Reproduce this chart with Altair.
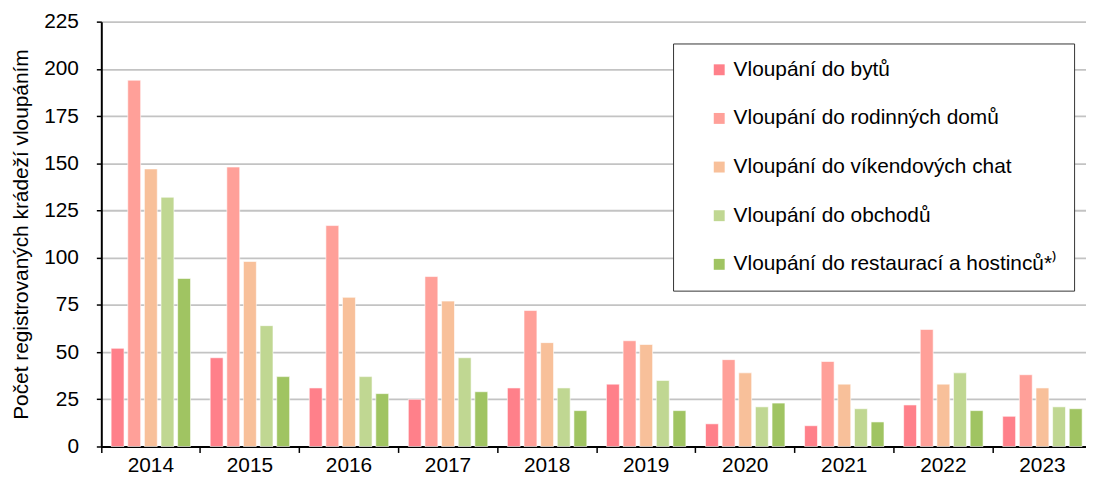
import altair as alt
import pandas as pd

years = ["2014", "2015", "2016", "2017", "2018", "2019", "2020", "2021", "2022", "2023"]
series = [
    "Vloupání do bytů",
    "Vloupání do rodinných domů",
    "Vloupání do víkendových chat",
    "Vloupání do obchodů",
    "Vloupání do restaurací a hostinců*⁾",
]
byty = [52, 47, 31, 25, 31, 33, 12, 11, 22, 16]
domy = [194, 148, 117, 90, 72, 56, 46, 45, 62, 38]
chaty = [147, 98, 79, 77, 55, 54, 39, 33, 33, 31]
obchody = [132, 64, 37, 47, 31, 35, 21, 20, 39, 21]
restaurace = [89, 37, 28, 29, 19, 19, 23, 13, 19, 20]
colors = ["#FF808A", "#FFA099", "#F8C09A", "#C0D792", "#A0C462"]
y_ticks = list(range(0, 226, 25))

rows = []
for s, vals in zip(series, [byty, domy, chaty, obchody, restaurace]):
    for y, v in zip(years, vals):
        rows.append({"rok": y, "typ": s, "pocet": v})
df = pd.DataFrame(rows)

FONT = "Liberation Sans"

chart = alt.Chart(df).mark_bar(stroke="white", strokeWidth=0.6).encode(
    x=alt.X("rok:N", sort=years, title=None,
            scale=alt.Scale(paddingInner=0, paddingOuter=0),
            axis=alt.Axis(labelAngle=0, labelFontSize=21, labelFont=FONT, labelColor="black",
                          tickSize=6, tickColor="black", tickWidth=1.5, bandPosition=0,
                          labelPadding=2, domainColor="black", domainWidth=2, grid=False)),
    xOffset=alt.XOffset("typ:N", sort=series,
                        scale=alt.Scale(paddingInner=0.224, paddingOuter=0.59)),
    y=alt.Y("pocet:Q", title="Počet registrovaných krádeží vloupáním",
            scale=alt.Scale(domain=[0, 225], nice=False),
            axis=alt.Axis(values=y_ticks, labelFontSize=21, labelFont=FONT, labelColor="black",
                          tickSize=5, tickColor="black", tickWidth=1.5, labelPadding=18,
                          domainColor="black", domainWidth=2,
                          gridColor="#c3c3c3", gridWidth=1.8,
                          titleFont=FONT, titleFontSize=21, titleFontWeight="normal",
                          titleColor="black", titlePadding=12)),
    color=alt.Color("typ:N", sort=series,
                    scale=alt.Scale(domain=series, range=colors),
                    legend=alt.Legend(title=None, orient="none", legendX=576, legendY=22,
                                      labelFont=FONT, labelFontSize=21, labelColor="black",
                                      labelLimit=500, symbolType="square", symbolSize=121,
                                      symbolStrokeWidth=0, symbolOffset=20, labelOffset=4,
                                      rowPadding=27, padding=16,
                                      strokeColor="#333333", fillColor="white")),
).properties(
    width=998,
    height=428,
    autosize=alt.AutoSizeParams(type="none"),
    padding={"left": 94, "top": 12, "right": -6, "bottom": 29},
).configure_view(stroke=None)

chart.save("out.html", embed_options={"renderer": "svg", "actions": False})
